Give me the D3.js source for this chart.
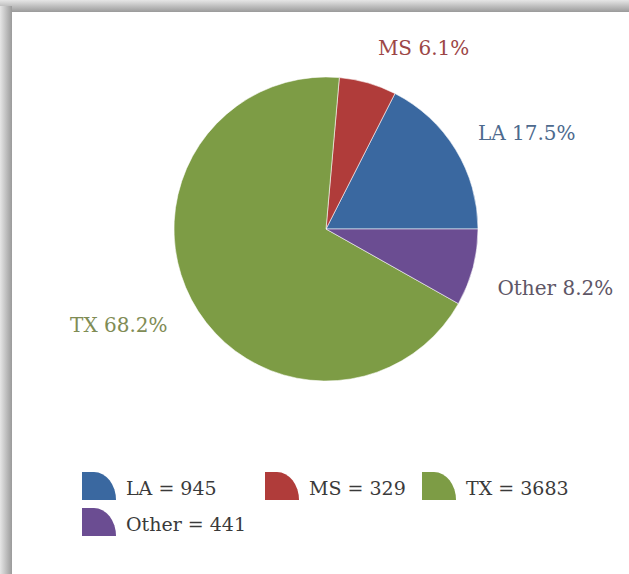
<!DOCTYPE html>
<html>
<head>
<meta charset="utf-8">
<script src="https://cdn.jsdelivr.net/npm/d3@7"></script>
<style>
  body { margin: 0; background: #fff; }
  text { font-family: "DejaVu Serif", "Liberation Serif", serif; }
</style>
</head>
<body>
<div id="chart"></div>
<script>
// data
const states = ["LA", "MS", "TX", "Other"];
const counts = [945, 329, 3683, 441];
const sliceColors = ["#3a68a0", "#b03c3a", "#7d9c45", "#6b4d92"];
const labelColors = ["#4d6a8e", "#9c4646", "#7f8c55", "#5e5666"];

const width = 629, height = 574;
const cx = 326, cy = 229, radius = 152;

// nudges for the outside labels (Excel best-fit placement)
const labelNudge = [[7, -7], [5, -18], [-8, 17], [7, 16]];
// legend column starts, Excel wraps after three
const legendCols = [82, 265, 422];

const svg = d3.select("#chart")
    .append("svg")
    .attr("width", width)
    .attr("height", height);

// frame shadow
const defs = svg.append("defs");
const gTop = defs.append("linearGradient")
    .attr("id", "shTop").attr("x1", 0).attr("y1", 0).attr("x2", 0).attr("y2", 1);
gTop.append("stop").attr("offset", "0%").attr("stop-color", "#e6e6e6");
gTop.append("stop").attr("offset", "100%").attr("stop-color", "#9a9a9a");
const gLeft = defs.append("linearGradient")
    .attr("id", "shLeft").attr("x1", 0).attr("y1", 0).attr("x2", 1).attr("y2", 0);
gLeft.append("stop").attr("offset", "0%").attr("stop-color", "#e6e6e6");
gLeft.append("stop").attr("offset", "100%").attr("stop-color", "#9a9a9a");

svg.append("rect").attr("x", 0).attr("y", 0).attr("width", width).attr("height", 12)
    .attr("fill", "url(#shTop)");
svg.append("rect").attr("x", 0).attr("y", 6).attr("width", 12).attr("height", height - 6)
    .attr("fill", "url(#shLeft)");
svg.append("rect").attr("x", 12).attr("y", 12).attr("width", width - 12).attr("height", height - 12)
    .attr("fill", "#fff");

const data = states.map((s, i) => ({ name: s, value: counts[i], i: i }));
const total = d3.sum(counts);

// counter-clockwise from 3 o'clock
const pie = d3.pie()
    .sort(null)
    .value(d => d.value)
    .startAngle(Math.PI / 2)
    .endAngle(Math.PI / 2 - 2 * Math.PI);

const arc = d3.arc().innerRadius(0).outerRadius(radius);
const arcs = pie(data);

const g = svg.append("g").attr("transform", "translate(" + cx + "," + cy + ")");

g.selectAll(".slice")
    .data(arcs)
    .enter().append("path")
    .attr("class", "slice")
    .attr("d", arc)
    .attr("fill", d => sliceColors[d.data.i])
    .attr("stroke", "#ffffff")
    .attr("stroke-opacity", 0.55)
    .attr("stroke-width", 1);

// outside labels
const labelR = 170;
g.selectAll(".label")
    .data(arcs)
    .enter().append("text")
    .attr("class", "label")
    .each(function(d) {
        const a = (d.startAngle + d.endAngle) / 2;
        const x = Math.sin(a) * labelR + labelNudge[d.data.i][0];
        const y = -Math.cos(a) * labelR + labelNudge[d.data.i][1];
        d3.select(this)
            .attr("x", x)
            .attr("y", y)
            .attr("dy", "0.35em")
            .attr("text-anchor", Math.sin(a) >= 0 ? "start" : "end");
    })
    .attr("fill", d => labelColors[d.data.i])
    .style("font-size", "20px")
    .text(d => d.data.name + " " + d3.format(".1%")(d.data.value / total));

// legend
const legendTop = 472;
const iconW = 34, iconH = 28, rowH = 36, textGap = 10;
const iconPath = "M0,0H12A22,28 0 0 1 " + iconW + "," + iconH + "H0Z";

const legend = svg.append("g").attr("class", "legend");
const items = legend.selectAll(".item")
    .data(data)
    .enter().append("g")
    .attr("class", "item")
    .attr("transform", (d, k) => "translate(" + legendCols[k % legendCols.length] + "," +
        (legendTop + Math.floor(k / legendCols.length) * rowH) + ")");

items.append("path")
    .attr("d", iconPath)
    .attr("fill", d => sliceColors[d.i]);

items.append("text")
    .attr("x", iconW + textGap)
    .attr("y", iconH / 2 + 2)
    .attr("dy", "0.35em")
    .attr("fill", "#3a3a3a")
    .style("font-size", "19px")
    .text(d => d.name + " = " + d.value);
</script>
</body>
</html>
